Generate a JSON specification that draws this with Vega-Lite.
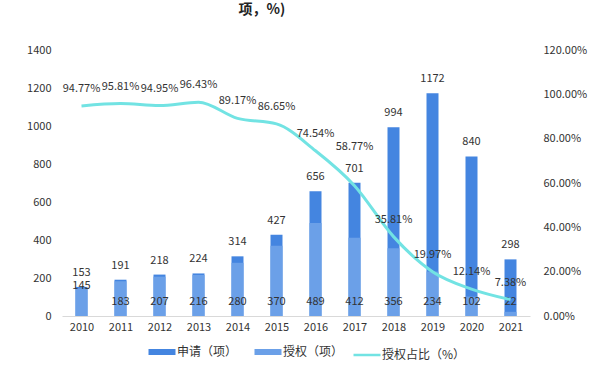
{
  "$schema": "https://vega.github.io/schema/vega-lite/v6.json",
  "width": 468,
  "height": 266,
  "autosize": {"type": "none"},
  "padding": {"left": 62, "top": 50, "right": 71, "bottom": 66},
  "background": "white",
  "config": {
    "view": {"stroke": null},
    "font": "Noto Sans CJK SC",
    "text": {"font": "Noto Sans CJK SC", "fontSize": 11, "color": "#333333"},
    "axisY": {
      "labelOverlap": false,
      "grid": false,
      "domain": false,
      "ticks": false,
      "labelFontSize": 11,
      "labelColor": "#333333",
      "labelFont": "Noto Sans CJK SC",
      "title": null
    }
  },
  "title": {
    "text": "项，%)",
    "fontSize": 14,
    "fontWeight": "bold",
    "color": "#222222",
    "anchor": "middle",
    "offset": 27,
    "dx": -34,
    "font": "Noto Sans CJK SC"
  },
  "data": {
    "values": [
      {"year": "2010", "apply": 153, "grant": 145, "ratio": 0.9477},
      {"year": "2011", "apply": 191, "grant": 183, "ratio": 0.9581},
      {"year": "2012", "apply": 218, "grant": 207, "ratio": 0.9495},
      {"year": "2013", "apply": 224, "grant": 216, "ratio": 0.9643},
      {"year": "2014", "apply": 314, "grant": 280, "ratio": 0.8917},
      {"year": "2015", "apply": 427, "grant": 370, "ratio": 0.8665},
      {"year": "2016", "apply": 656, "grant": 489, "ratio": 0.7454},
      {"year": "2017", "apply": 701, "grant": 412, "ratio": 0.5877},
      {"year": "2018", "apply": 994, "grant": 356, "ratio": 0.3581},
      {"year": "2019", "apply": 1172, "grant": 234, "ratio": 0.1997},
      {"year": "2020", "apply": 840, "grant": 102, "ratio": 0.1214},
      {"year": "2021", "apply": 298, "grant": 22, "ratio": 0.0738}
    ]
  },
  "encoding": {
    "x": {
      "field": "year",
      "type": "ordinal",
      "scale": {"type": "point", "padding": 0.5},
      "axis": {
        "title": null,
        "labelAngle": 0,
        "labelFontSize": 11,
        "labelColor": "#333333",
        "labelFont": "Noto Sans CJK SC",
        "ticks": false,
        "domainColor": "#d9d9d9",
        "labelPadding": 5,
        "grid": false
      }
    }
  },
  "layer": [
    {
      "layer": [
        {
          "mark": {"type": "bar", "width": 12},
          "encoding": {
            "y": {
              "field": "apply",
              "type": "quantitative",
              "scale": {"domain": [0, 1400]},
              "axis": {"values": [0, 200, 400, 600, 800, 1000, 1200, 1400], "format": "d", "labelPadding": 11}
            },
            "color": {
              "datum": "申请（项）",
              "type": "nominal",
              "scale": {
                "domain": ["申请（项）", "授权（项）", "授权占比（%）"],
                "range": ["#4485e0", "#6ba0e8", "#72e3e3"]
              },
              "legend": {
                "title": null,
                "orient": "none",
                "legendX": 94,
                "legendY": 296,
                "direction": "horizontal",
                "symbolType": "stroke",
                "symbolSize": 729,
                "symbolStrokeWidth": 6,
                "labelFontSize": 12,
                "labelColor": "#333333",
                "labelFont": "Noto Sans CJK SC",
                "labelOffset": 9,
                "columnPadding": 4,
                "encode": {
                  "symbols": {
                    "update": {
                      "stroke": {"scale": "color", "field": "value"},
                      "strokeWidth": {"signal": "datum.value === '授权占比（%）' ? 2.5 : 6"},
                      "opacity": {"value": 1}
                    }
                  }
                }
              }
            }
          }
        },
        {
          "mark": {"type": "bar", "width": 12},
          "encoding": {
            "y": {"field": "grant", "type": "quantitative", "axis": {"values": [0, 200, 400, 600, 800, 1000, 1200, 1400], "format": "d", "labelPadding": 11}},
            "color": {"datum": "授权（项）", "type": "nominal"}
          }
        },
        {
          "mark": {"type": "text", "dy": -14, "baseline": "middle"},
          "encoding": {
            "y": {"field": "apply", "type": "quantitative", "axis": {"values": [0, 200, 400, 600, 800, 1000, 1200, 1400], "format": "d", "labelPadding": 11}},
            "text": {"field": "apply", "type": "quantitative"}
          }
        },
        {
          "transform": [{"filter": "datum.year !== '2010'"}],
          "mark": {"type": "text", "dy": -14, "baseline": "middle"},
          "encoding": {
            "y": {"datum": 0, "type": "quantitative", "axis": {"values": [0, 200, 400, 600, 800, 1000, 1200, 1400], "format": "d", "labelPadding": 11}},
            "text": {"field": "grant", "type": "quantitative"}
          }
        },
        {
          "transform": [{"filter": "datum.year === '2010'"}],
          "mark": {"type": "text", "dy": -2, "baseline": "middle"},
          "encoding": {
            "y": {"field": "grant", "type": "quantitative", "axis": {"values": [0, 200, 400, 600, 800, 1000, 1200, 1400], "format": "d", "labelPadding": 11}},
            "text": {"field": "grant", "type": "quantitative"}
          }
        }
      ]
    },
    {
      "layer": [
        {
          "mark": {"type": "line", "interpolate": "monotone", "strokeWidth": 3},
          "encoding": {
            "y": {
              "field": "ratio",
              "type": "quantitative",
              "scale": {"domain": [0, 1.2]},
              "axis": {"orient": "right", "values": [0, 0.2, 0.4, 0.6, 0.8, 1.0, 1.2], "format": ".2%", "labelPadding": 13}
            },
            "color": {"datum": "授权占比（%）", "type": "nominal"}
          }
        },
        {
          "transform": [{"filter": "datum.year !== '2017'"}],
          "mark": {"type": "text", "dy": -17, "baseline": "middle"},
          "encoding": {
            "y": {"field": "ratio", "type": "quantitative", "axis": {"orient": "right", "values": [0, 0.2, 0.4, 0.6, 0.8, 1.0, 1.2], "format": ".2%", "labelPadding": 13}},
            "text": {"field": "ratio", "type": "quantitative", "format": ".2%"}
          }
        },
        {
          "transform": [{"filter": "datum.year === '2017'"}],
          "mark": {"type": "text", "dy": -39, "baseline": "middle"},
          "encoding": {
            "y": {"field": "ratio", "type": "quantitative", "axis": {"orient": "right", "values": [0, 0.2, 0.4, 0.6, 0.8, 1.0, 1.2], "format": ".2%", "labelPadding": 13}},
            "text": {"field": "ratio", "type": "quantitative", "format": ".2%"}
          }
        }
      ]
    }
  ],
  "resolve": {"scale": {"y": "independent"}}
}
